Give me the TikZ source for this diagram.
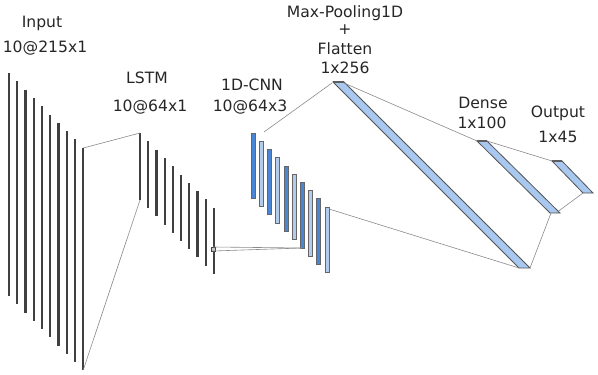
\documentclass[tikz,border=0pt]{standalone}
\usepackage{fontspec}
\setmainfont{DejaVu Sans}
\usetikzlibrary{positioning,calc}
\definecolor{bardark}{HTML}{404040}
\definecolor{cnndark}{HTML}{4A86D6}
\definecolor{cnnlight}{HTML}{B4CCEC}
\definecolor{layerfill}{HTML}{A9C8EF}
\definecolor{linkgray}{HTML}{8A8A8A}
\tikzset{
  lbl/.style={font=\fontsize{15.6}{18}\selectfont,text=black!85,inner sep=0pt},
  featbar/.style={draw=bardark,line width=2.2pt},
  cnnbar/.style={draw=bardark!80,line width=0.6pt},
  denselayer/.style={fill=layerfill,draw=bardark!90,line width=0.8pt},
  link/.style={draw=linkgray,line width=0.6pt}
}
\begin{document}
\begin{tikzpicture}[x=1pt,y=-1pt]
  \useasboundingbox (0,0) rectangle (598,375);
  % input and lstm feature maps
  \foreach \i in {0,...,9} {
    \draw[featbar] (9+8.25*\i,73+8.3*\i) -- (9+8.25*\i,296+8.25*\i);
    \draw[featbar] (140+8.2*\i,133+8.3*\i) -- (140+8.2*\i,200+8.2*\i);
  }
  % 1D-CNN maps, alternating colours
  \foreach \i in {0,...,9} {
    \pgfmathparse{mod(\i,2)==0 ? "cnndark" : "cnnlight"}
    \edef\barcol{\pgfmathresult}
    \draw[cnnbar,fill=\barcol] (251+8.2*\i,133+8.2*\i) rectangle (255+8.2*\i,198+8.3*\i);
  }
  % flatten, dense, output
  \draw[denselayer] (333,82) -- (344,82) -- (530,268) -- (519,268) -- cycle;
  \draw[denselayer] (477,141) -- (487,141) -- (560,213) -- (550,213) -- cycle;
  \draw[denselayer] (552,161) -- (562,161) -- (593,193) -- (583,193) -- cycle;
  \draw[bardark!85,line width=2pt] (333,82) -- (344,82);
  \draw[bardark!85,line width=2pt] (477,141) -- (487,141);
  \draw[bardark!85,line width=2pt] (552,161) -- (562,161);
  % anchor points
  \coordinate (inTop) at (83.25,148);
  \coordinate (inBot) at (83.25,370);
  \coordinate (lstmTop) at (140,133);
  \coordinate (lstmBot) at (140,200);
  \coordinate (lstmMid) at (213,249);
  \coordinate (cnnBot) at (302,248);
  \coordinate (cnnTop) at (264,132);
  \coordinate (cnnLast) at (329,209);
  \coordinate (flatTL) at (332,83);
  \coordinate (flatTR) at (344,83);
  \coordinate (flatBL) at (519,268);
  \coordinate (flatBR) at (530,268);
  \coordinate (denseTL) at (477,141);
  \coordinate (denseTR) at (487,141);
  \coordinate (denseBL) at (551,213);
  \coordinate (denseBR) at (556,213);
  \coordinate (outTL) at (552,161);
  \coordinate (outBL) at (583,193);
  % connectors
  \draw[link] (inTop) -- (lstmTop);
  \draw[link] (inBot) -- (lstmBot);
  \draw[link,draw=bardark,fill=bardark!30] ($(lstmMid)+(-2,-2)$) rectangle ($(lstmMid)+(2,2)$);
  \draw[link] ($(lstmMid)+(0,-2)$) -- (cnnBot);
  \draw[link] ($(lstmMid)+(0,2)$) -- (cnnBot);
  \draw[link] (cnnTop) -- (flatTL);
  \draw[link] (cnnLast) -- (flatBL);
  \draw[link] (flatTR) -- (denseTL);
  \draw[link] (flatBR) -- (denseBL);
  \draw[link] (denseTR) -- (outTL);
  \draw[link] (denseBR) -- (outBL);
  % labels
  \node[lbl] (inName) at (42,23) {Input};
  \node[lbl] (inSize) at (45,48) {10@215x1};
  \node[lbl] (lstmName) at (147,78) {LSTM};
  \node[lbl] (lstmSize) at (150,107) {10@64x1};
  \node[lbl] (cnnName) at (252,85) {1D-CNN};
  \node[lbl] (cnnSize) at (250,107) {10@64x3};
  \node[lbl] (poolName) at (345,13) {Max-Pooling1D};
  \node[lbl] (poolPlus) at (345,30) {+};
  \node[lbl] (flatName) at (345,49) {Flatten};
  \node[lbl] (flatSize) at (345,68) {1x256};
  \node[lbl] (denseName) at (483,103) {Dense};
  \node[lbl] (denseSize) at (482,123) {1x100};
  \node[lbl] (outName) at (558,113) {Output};
  \node[lbl] (outSize) at (558,137) {1x45};
\end{tikzpicture}
\end{document}
